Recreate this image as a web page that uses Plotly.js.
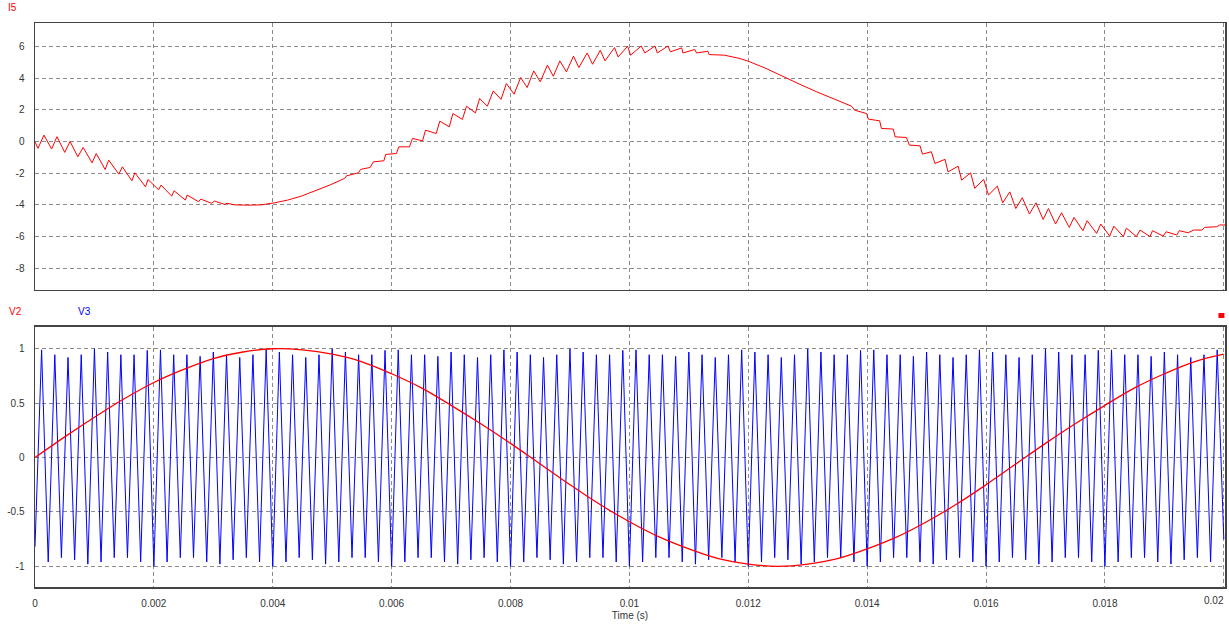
<!DOCTYPE html>
<html>
<head>
<meta charset="utf-8">
<script src="https://cdn.plot.ly/plotly-3.0.1.min.js"></script>
<style>html,body{margin:0;padding:0;background:#fff;}#chart{width:1229px;height:625px;}</style>
</head>
<body>
<div id="chart"></div>
<script>
// ---- data ----
const i5Time = [0,0.00005,0.00015,0.00028,0.00037,0.00050,0.00059,0.00072,0.00081,0.00096,0.00103,0.00118,0.00124,0.00141,0.00147,0.00163,0.00168,0.00186,0.00190,0.00208,0.00212,0.00230,0.00234,0.00253,0.00256,0.00275,0.00279,0.00297,0.00302,0.00319,0.00323,0.00336,0.00358,0.00381,0.00403,0.00425,0.00448,0.00470,0.00496,0.00521,0.00524,0.00544,0.00548,0.00564,0.00569,0.00587,0.00590,0.00608,0.00612,0.00630,0.00635,0.00652,0.00657,0.00675,0.00681,0.00697,0.00703,0.00719,0.00726,0.00741,0.00748,0.00761,0.00771,0.00784,0.00793,0.00806,0.00817,0.00828,0.00839,0.00850,0.00862,0.00872,0.00883,0.00894,0.00906,0.00915,0.00929,0.00938,0.00951,0.00959,0.00975,0.00981,0.00997,0.01002,0.01020,0.01026,0.01043,0.01047,0.01065,0.01069,0.01088,0.01090,0.01110,0.01113,0.01132,0.01134,0.01160,0.01186,0.01200,0.01230,0.01259,0.01287,0.01315,0.01345,0.01374,0.01379,0.01399,0.01402,0.01421,0.01424,0.01444,0.01447,0.01466,0.01471,0.01489,0.01493,0.01508,0.01514,0.01531,0.01536,0.01553,0.01559,0.01574,0.01581,0.01596,0.01604,0.01619,0.01628,0.01640,0.01650,0.01661,0.01673,0.01684,0.01696,0.01705,0.01717,0.01727,0.01740,0.01748,0.01763,0.01770,0.01786,0.01793,0.01808,0.01815,0.01831,0.01836,0.01853,0.01859,0.01876,0.01880,0.01898,0.01903,0.01921,0.01925,0.01940,0.01949,0.01963,0.01968,0.01988,0.01993,0.02002];
const i5Value = [-0.02,-0.44,0.40,-0.48,0.30,-0.69,0.00,-0.96,-0.38,-1.35,-0.76,-1.77,-1.18,-2.06,-1.60,-2.48,-1.98,-2.86,-2.40,-3.05,-2.75,-3.45,-3.11,-3.70,-3.38,-3.80,-3.64,-3.90,-3.76,-3.97,-3.90,-4.00,-4.02,-4.00,-3.87,-3.70,-3.45,-3.15,-2.75,-2.33,-2.17,-1.98,-1.76,-1.64,-1.29,-1.22,-0.82,-0.76,-0.34,-0.34,0.19,0.04,0.71,0.50,1.28,0.92,1.76,1.39,2.22,1.80,2.71,2.22,3.19,2.65,3.65,2.98,4.03,3.40,4.45,3.76,4.81,4.11,5.08,4.39,5.38,4.66,5.58,4.87,5.75,5.08,5.92,5.33,6.00,5.44,6.02,5.58,6.02,5.58,6.02,5.65,5.90,5.58,5.80,5.58,5.69,5.48,5.44,5.23,5.06,4.60,4.07,3.60,3.13,2.68,2.22,1.97,1.76,1.41,1.30,0.82,0.78,0.29,0.25,-0.23,-0.28,-0.80,-0.65,-1.39,-1.13,-1.92,-1.56,-2.44,-1.98,-2.96,-2.39,-3.38,-2.82,-3.87,-3.18,-4.23,-3.55,-4.58,-3.87,-4.92,-4.23,-5.21,-4.50,-5.42,-4.79,-5.63,-5.00,-5.80,-5.21,-5.97,-5.34,-6.00,-5.47,-6.00,-5.59,-6.00,-5.63,-5.97,-5.70,-5.90,-5.63,-5.76,-5.59,-5.59,-5.42,-5.38,-5.27,-5.27];

const v2Time = [0,0.0005,0.001,0.0015,0.002,0.0025,0.003,0.0035,0.004,0.0045,0.005,0.0055,0.006,0.0065,0.007,0.0075,0.008,0.0085,0.009,0.0095,0.01,0.0105,0.011,0.0115,0.012,0.0125,0.013,0.0135,0.014,0.0145,0.015,0.0155,0.016,0.0165,0.017,0.0175,0.018,0.0185,0.019,0.0195,0.02];
const v2Value = [0,0.19,0.37,0.54,0.69,0.81,0.91,0.97,1.0,0.99,0.95,0.88,0.77,0.64,0.48,0.31,0.13,-0.06,-0.25,-0.43,-0.59,-0.73,-0.84,-0.93,-0.98,-1.0,-0.98,-0.93,-0.84,-0.73,-0.59,-0.43,-0.25,-0.06,0.13,0.31,0.48,0.64,0.77,0.88,0.95];

// carrier V3: vertex values (troughs at whole periods, peaks at half periods)
const v3HalfPeriod = 0.00011111;
const v3Troughs = [-0.82,
 -0.96,-0.92,-0.94,-0.98,-0.96,-0.92,-0.92,-0.96,-1.0,
 -0.96,-0.92,-0.92,-0.96,-0.98,-0.94,-0.92,-0.96,-1.0,
 -0.96,-0.92,-0.94,-0.98,-0.96,-0.92,-0.92,-0.96,-1.0,
 -0.96,-0.92,-0.92,-0.96,-0.98,-0.94,-0.92,-0.96,-1.0,
 -0.96,-0.92,-0.94,-0.98,-0.96,-0.92,-0.92,-0.96,-1.0,
 -0.96,-0.92,-0.92,-0.96,-0.98,-0.94,-0.92,-0.96,-1.0,
 -0.96,-0.92,-0.94,-0.98,-0.96,-0.92,-0.92,-0.96,-1.0,
 -0.96,-0.92,-0.92,-0.96,-0.98,-0.94,-0.92,-0.96,-1.0,
 -0.96,-0.92,-0.94,-0.98,-0.96,-0.92,-0.92,-0.96,-1.0,
 -0.96,-0.92,-0.92,-0.96,-0.98,-0.94,-0.92,-0.96,-0.75];
const v3Peaks = [
 0.99,0.945,0.92,0.945,1.0,0.97,0.945,0.945,0.985,
 0.99,0.945,0.945,0.93,0.97,0.945,0.92,0.945,0.99,
 0.97,0.945,0.92,0.945,1.0,0.97,0.945,0.945,0.985,
 0.99,0.945,0.945,0.93,0.97,0.945,0.92,0.945,0.99,
 0.97,0.945,0.92,0.945,1.0,0.97,0.945,0.945,0.985,
 0.99,0.945,0.945,0.93,0.97,0.945,0.92,0.945,0.99,
 0.97,0.945,0.92,0.945,1.0,0.97,0.945,0.945,0.985,
 0.99,0.945,0.945,0.93,0.97,0.945,0.92,0.945,0.99,
 0.97,0.945,0.92,0.945,1.0,0.97,0.945,0.945,0.985,
 0.99,0.945,0.945,0.93,0.97,0.945,0.92,0.945,0.99];

const xTickVals = [0,0.002,0.004,0.006,0.008,0.01,0.012,0.014,0.016,0.018,0.02];
const xTickText = ['0','0.002','0.004','0.006','0.008','0.01','0.012','0.014','0.016','0.018',''];
const xLastTickVal = 0.02;
const xLastTickText = '0.02';
const topTickVals = [-8,-6,-4,-2,0,2,4,6];
const topTickText = ['-8','-6','-4','-2','0','2','4','6'];
const botTickVals = [-1,-0.5,0,0.5,1];
const botTickText = ['-1','-0.5','0','0.5','1'];

// ---- build ----
const v3Value = [];
for (let k = 0; k < v3Peaks.length; k++) { v3Value.push(v3Troughs[k]); v3Value.push(v3Peaks[k]); }
v3Value.push(v3Troughs[v3Troughs.length - 1]);

const FONT = 'Liberation Sans, Arial, sans-serif';
const gridCol = '#8c8c8c';
const axisCommon = {
  showline: true, mirror: true, linecolor: '#444', linewidth: 1.5,
  showgrid: true, gridcolor: gridCol, griddash: '4px,3px', gridwidth: 1,
  zeroline: false, ticks: 'outside', ticklen: 7, tickcolor: 'rgba(0,0,0,0)',
  tickfont: {family: FONT, size: 10, color: '#333'}
};

const traces = [
  {x: i5Time, y: i5Value, xaxis: 'x', yaxis: 'y', mode: 'lines', line: {color: '#ff0000', width: 1}, hoverinfo: 'skip'},
  {x0: 0, dx: v3HalfPeriod, y: v3Value, xaxis: 'x2', yaxis: 'y2', mode: 'lines', line: {color: '#0000ff', width: 1}, hoverinfo: 'skip'},
  {x: v2Time, y: v2Value, xaxis: 'x2', yaxis: 'y2', mode: 'lines', line: {color: '#ff0000', width: 1.3, shape: 'spline'}, hoverinfo: 'skip'}
];

const layout = {
  width: 1229, height: 625,
  margin: {l: 35, r: 4, t: 23, b: 38},
  paper_bgcolor: '#ffffff', plot_bgcolor: '#ffffff',
  showlegend: false,
  xaxis: Object.assign({}, axisCommon, {domain: [0, 1], range: [0, 0.02002], tickvals: xTickVals, showticklabels: false, anchor: 'y'}),
  yaxis: Object.assign({}, axisCommon, {domain: [0.5266, 1], range: [-9.37, 7.47], tickvals: topTickVals, ticktext: topTickText, anchor: 'x'}),
  xaxis2: Object.assign({}, axisCommon, {domain: [0, 1], range: [0, 0.02002], tickvals: xTickVals, ticktext: xTickText, anchor: 'y2', ticklen: 6,
    title: {text: 'Time (s)', font: {family: FONT, size: 10, color: '#333'}, standoff: 4}}),
  yaxis2: Object.assign({}, axisCommon, {domain: [0, 0.461], range: [-1.19, 1.2], tickvals: botTickVals, ticktext: botTickText, anchor: 'x2'}),
  annotations: [
    {text: 'I5', xref: 'paper', yref: 'paper', x: -0.0245, y: 1.0266, xanchor: 'left', yanchor: 'middle', showarrow: false, font: {family: FONT, size: 10, color: '#ff0000'}},
    {text: 'V2', xref: 'paper', yref: 'paper', x: -0.0235, y: 0.4876, xanchor: 'left', yanchor: 'middle', showarrow: false, font: {family: FONT, size: 10, color: '#ff0000'}},
    {text: 'V3', xref: 'paper', yref: 'paper', x: 0.0345, y: 0.4876, xanchor: 'left', yanchor: 'middle', showarrow: false, font: {family: FONT, size: 10, color: '#0000ff'}},
    {text: xLastTickText, xref: 'x2', yref: 'paper', x: xLastTickVal, y: -0.0245, xanchor: 'right', yanchor: 'middle', showarrow: false, xshift: 2, font: {family: FONT, size: 10, color: '#333'}}
  ],
  shapes: [
    {type: 'rect', xref: 'paper', yref: 'paper', x0: 0.9945, x1: 0.9995, y0: 0.477, y1: 0.4858, fillcolor: '#ff0000', line: {width: 0}}
  ]
};

Plotly.newPlot('chart', traces, layout, {displayModeBar: false, staticPlot: true});
</script>
</body>
</html>
